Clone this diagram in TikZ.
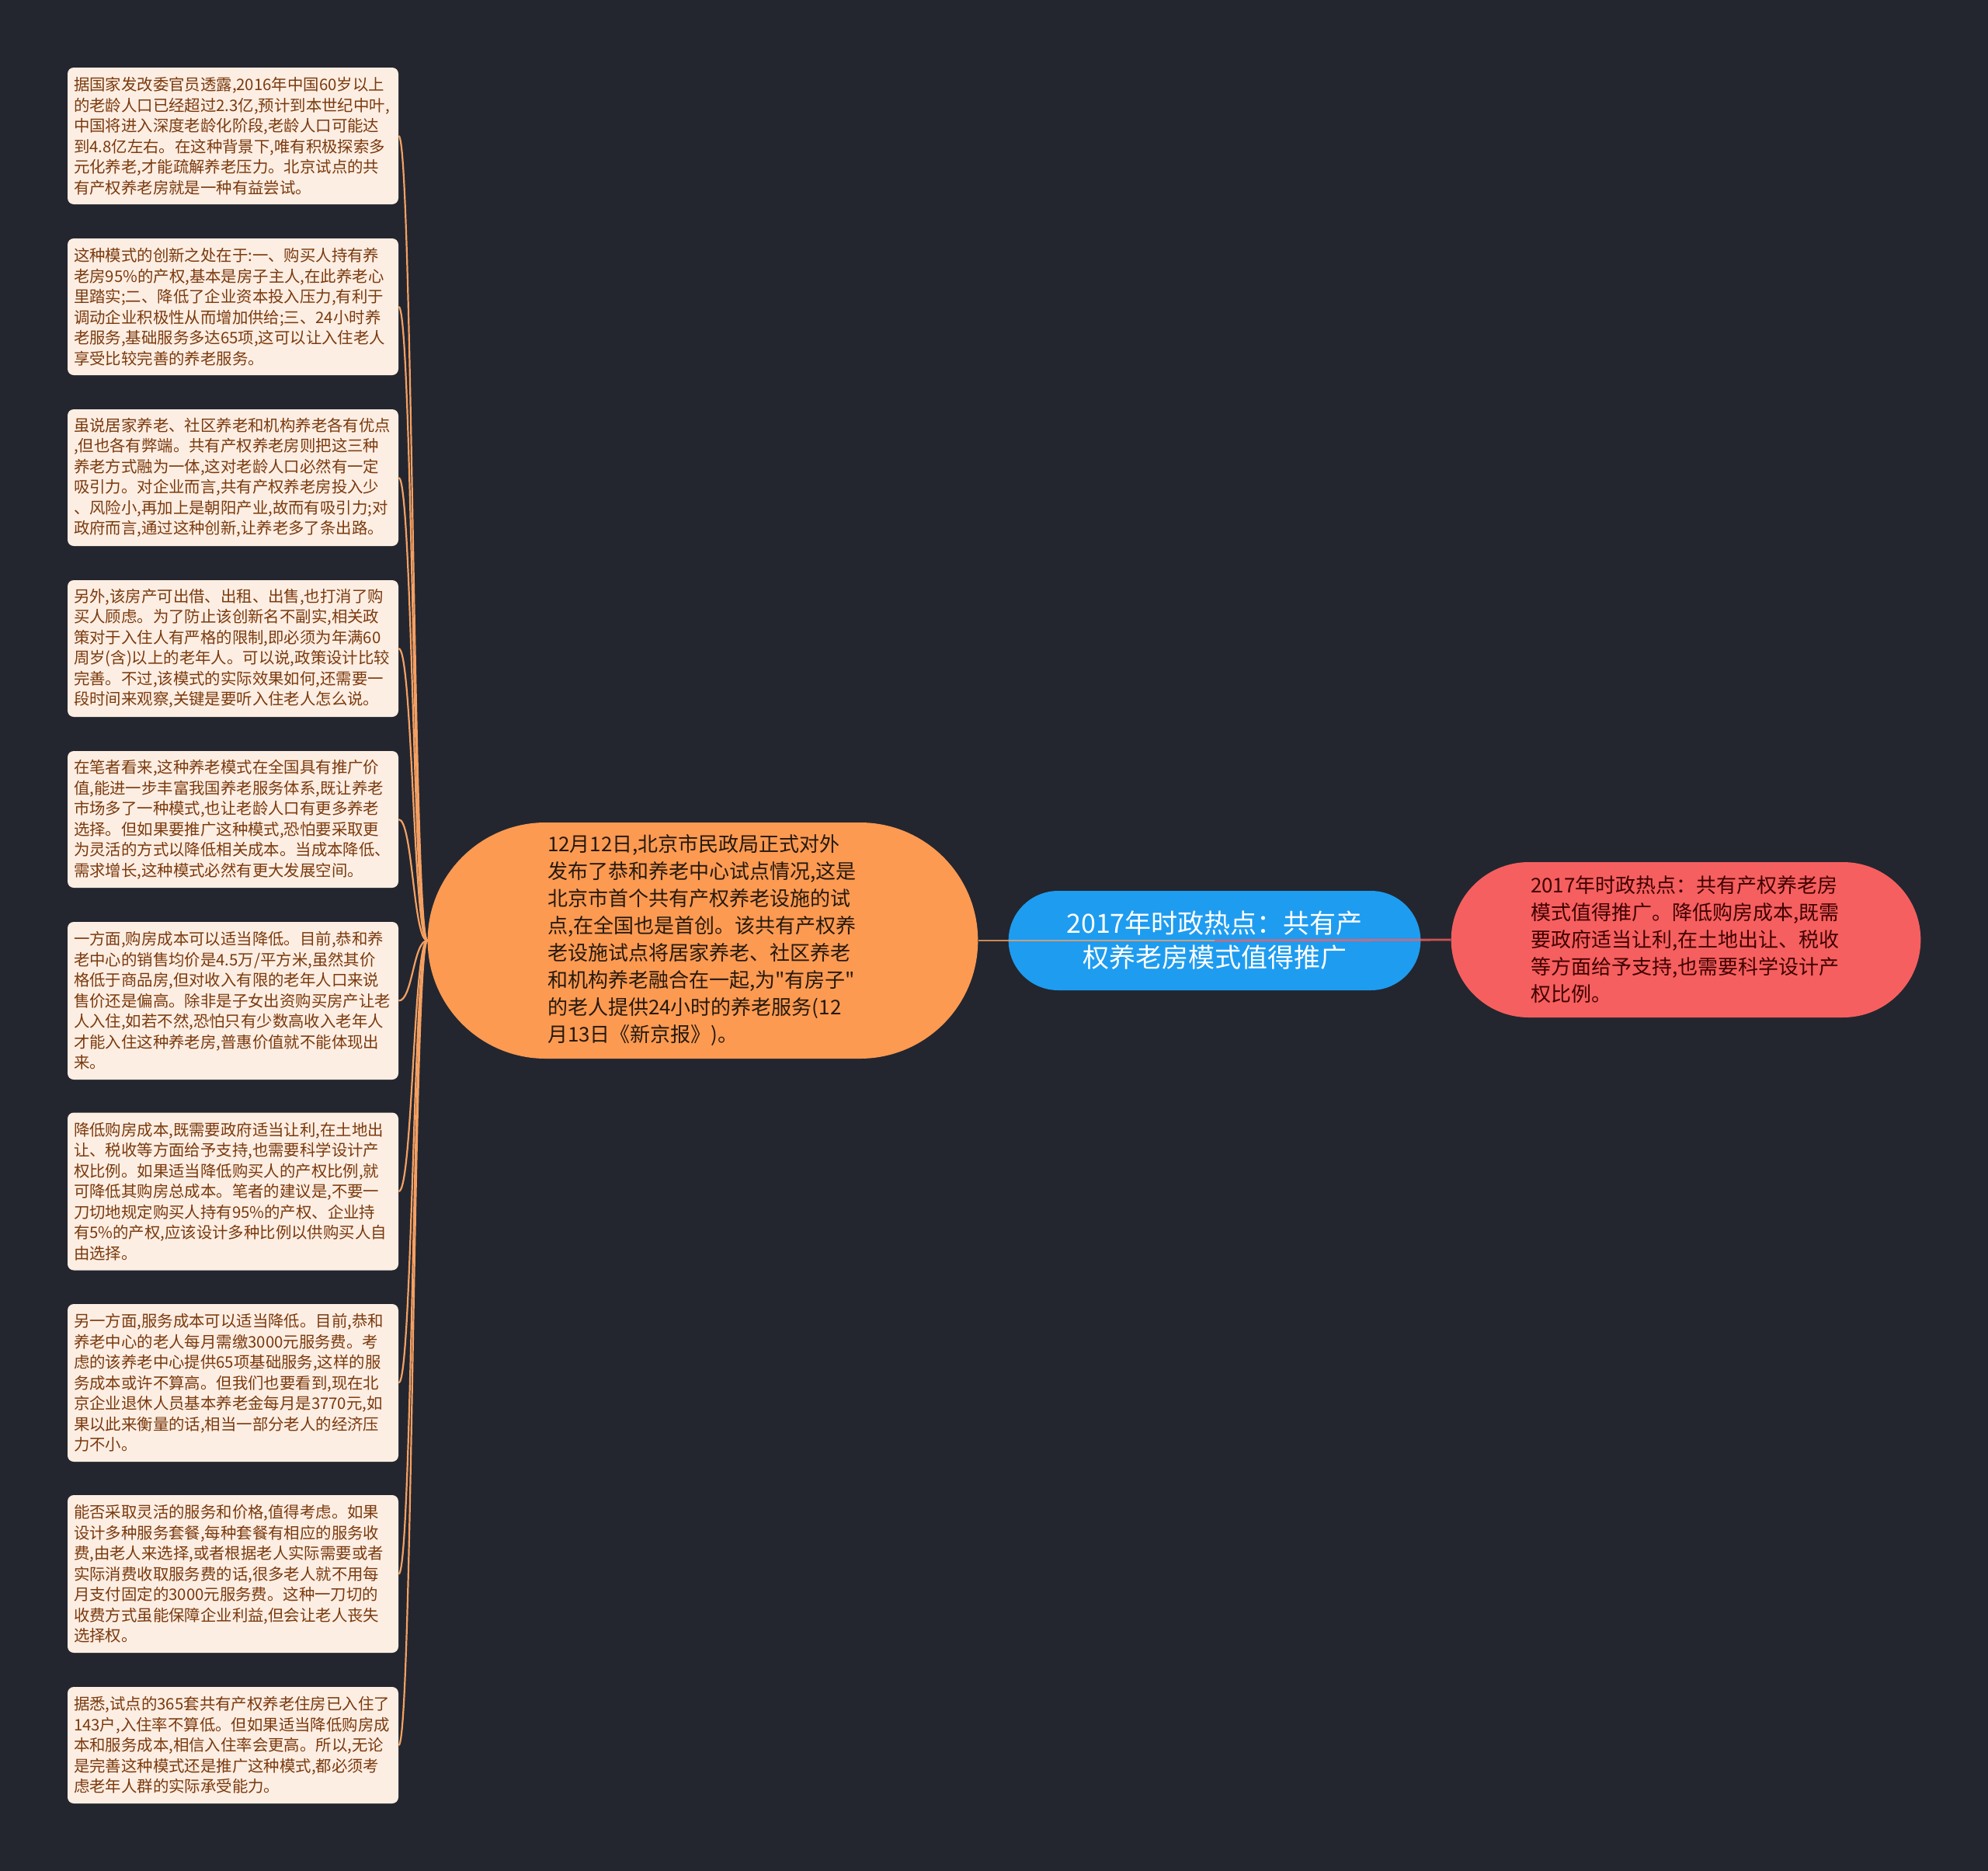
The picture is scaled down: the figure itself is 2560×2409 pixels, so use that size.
\documentclass[tikz,border=0pt]{standalone}
\usepackage{fontspec}
\setmainfont{Noto Sans CJK SC}[Ligatures=TeXOff]
\usetikzlibrary{shapes.misc}

\definecolor{bgc}{HTML}{23262F}
\definecolor{leaffill}{HTML}{FDEEE3}
\definecolor{leaftext}{HTML}{7A3A0E}
\definecolor{orangec}{HTML}{FC9A52}
\definecolor{bluec}{HTML}{1E9CF0}
\definecolor{redc}{HTML}{F65F5F}
\definecolor{linkc}{HTML}{F4A062}

\tikzset{
  leaf/.style={rectangle, rounded corners=4pt, fill=leaffill, text=leaftext,
    text width=205pt, inner xsep=4pt, align=left, minimum height=#1,
    font=\fontsize{10.2}{13.25}\selectfont},
  leaf/.default=88pt,
  link/.style={draw=linkc, line width=1.1pt},
}

\begin{document}
\begin{tikzpicture}[x=0.5pt, y=-0.5pt]
    \useasboundingbox (0,0) rectangle (2560,2409);
    \fill[bgc] (0,0) rectangle (2560,2409);

    % centre topic and its branches
    \node[rounded rectangle, fill=bluec, text=white, minimum width=272pt, minimum height=64pt,
          align=center, font=\fontsize{17}{22}\selectfont] (topic) at (1564,1211)
          {2017年时政热点：共有产\\权养老房模式值得推广};
    \node[rounded rectangle, fill=orangec, text=black!80!brown, minimum width=361pt, minimum height=152pt,
          text width=200pt, align=left, font=\fontsize{13}{17.5}\selectfont] (news) at (905,1211)
          {12月12日,北京市民政局正式对外\\发布了恭和养老中心试点情况,这是\\北京市首个共有产权养老设施的试\\点,在全国也是首创。该共有产权养\\老设施试点将居家养老、社区养老\\和机构养老融合在一起,为"有房子"\\的老人提供24小时的养老服务(12\\月13日《新京报》)。};
    \node[rounded rectangle, fill=redc, text=black!75!red, minimum width=309pt, minimum height=100pt,
          text width=200pt, align=left, font=\fontsize{13}{17.5}\selectfont] (summary) at (2171,1210)
          {2017年时政热点：共有产权养老房\\模式值得推广。降低购房成本,既需\\要政府适当让利,在土地出让、税收\\等方面给予支持,也需要科学设计产\\权比例。};

    % comments on the left
    \node[leaf] (l1) at (300,175) {据国家发改委官员透露,2016年中国60岁以上\\的老龄人口已经超过2.3亿,预计到本世纪中叶,\\中国将进入深度老龄化阶段,老龄人口可能达\\到4.8亿左右。在这种背景下,唯有积极探索多\\元化养老,才能疏解养老压力。北京试点的共\\有产权养老房就是一种有益尝试。};
    \node[leaf] (l2) at (300,395) {这种模式的创新之处在于:一、购买人持有养\\老房95\%的产权,基本是房子主人,在此养老心\\里踏实;二、降低了企业资本投入压力,有利于\\调动企业积极性从而增加供给;三、24小时养\\老服务,基础服务多达65项,这可以让入住老人\\享受比较完善的养老服务。};
    \node[leaf] (l3) at (300,615) {虽说居家养老、社区养老和机构养老各有优点\\,但也各有弊端。共有产权养老房则把这三种\\养老方式融为一体,这对老龄人口必然有一定\\吸引力。对企业而言,共有产权养老房投入少\\、风险小,再加上是朝阳产业,故而有吸引力;对\\政府而言,通过这种创新,让养老多了条出路。};
    \node[leaf] (l4) at (300,835) {另外,该房产可出借、出租、出售,也打消了购\\买人顾虑。为了防止该创新名不副实,相关政\\策对于入住人有严格的限制,即必须为年满60\\周岁(含)以上的老年人。可以说,政策设计比较\\完善。不过,该模式的实际效果如何,还需要一\\段时间来观察,关键是要听入住老人怎么说。};
    \node[leaf] (l5) at (300,1055) {在笔者看来,这种养老模式在全国具有推广价\\值,能进一步丰富我国养老服务体系,既让养老\\市场多了一种模式,也让老龄人口有更多养老\\选择。但如果要推广这种模式,恐怕要采取更\\为灵活的方式以降低相关成本。当成本降低、\\需求增长,这种模式必然有更大发展空间。};
    \node[leaf=101.5pt] (l6) at (300,1288.5) {一方面,购房成本可以适当降低。目前,恭和养\\老中心的销售均价是4.5万/平方米,虽然其价\\格低于商品房,但对收入有限的老年人口来说\\售价还是偏高。除非是子女出资购买房产让老\\人入住,如若不然,恐怕只有少数高收入老年人\\才能入住这种养老房,普惠价值就不能体现出\\来。};
    \node[leaf=101.5pt] (l7) at (300,1534) {降低购房成本,既需要政府适当让利,在土地出\\让、税收等方面给予支持,也需要科学设计产\\权比例。如果适当降低购买人的产权比例,就\\可降低其购房总成本。笔者的建议是,不要一\\刀切地规定购买人持有95\%的产权、企业持\\有5\%的产权,应该设计多种比例以供购买人自\\由选择。};
    \node[leaf=101.5pt] (l8) at (300,1780.5) {另一方面,服务成本可以适当降低。目前,恭和\\养老中心的老人每月需缴3000元服务费。考\\虑的该养老中心提供65项基础服务,这样的服\\务成本或许不算高。但我们也要看到,现在北\\京企业退休人员基本养老金每月是3770元,如\\果以此来衡量的话,相当一部分老人的经济压\\力不小。};
    \node[leaf=101.5pt] (l9) at (300,2026.5) {能否采取灵活的服务和价格,值得考虑。如果\\设计多种服务套餐,每种套餐有相应的服务收\\费,由老人来选择,或者根据老人实际需要或者\\实际消费收取服务费的话,很多老人就不用每\\月支付固定的3000元服务费。这种一刀切的\\收费方式虽能保障企业利益,但会让老人丧失\\选择权。};
    \node[leaf=75pt] (l10) at (300,2247) {据悉,试点的365套共有产权养老住房已入住了\\143户,入住率不算低。但如果适当降低购房成\\本和服务成本,相信入住率会更高。所以,无论\\是完善这种模式还是推广这种模式,都必须考\\虑老年人群的实际承受能力。};

    % connectors
    \foreach \i in {1,...,10}
        \draw[link] (news.west) .. controls +(-18,0) and +(18,0) .. (l\i.east);
    \draw[link, line width=1.4pt, opacity=0.8] (news.east) -- (topic.center);
    \draw[redc, line width=1.4pt, opacity=0.8] (topic.center) -- (summary.west);
\end{tikzpicture}
\end{document}
